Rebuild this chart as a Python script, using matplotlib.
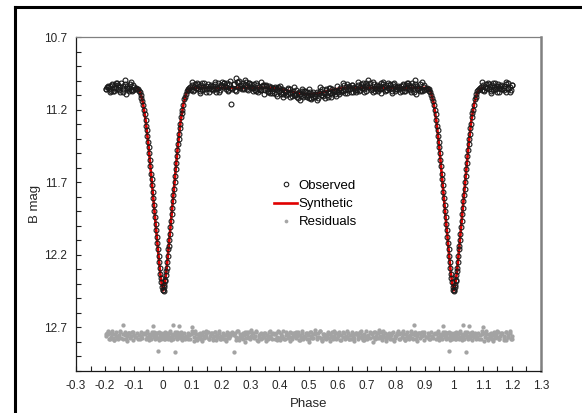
import matplotlib
matplotlib.use("Agg")
import matplotlib.pyplot as plt
import numpy as np
from matplotlib.lines import Line2D
from matplotlib.ticker import MultipleLocator, FuncFormatter

# ---- data (phase 0..1, folded copies added below) ----
obs_phase = [
    # primary egress
    0.001, 0.002, 0.003, 0.004, 0.006, 0.007, 0.009, 0.011, 0.012, 0.014,
    0.016, 0.018, 0.019, 0.021, 0.023, 0.025, 0.027, 0.029, 0.031, 0.033,
    0.035, 0.037, 0.039, 0.041, 0.043, 0.045, 0.047, 0.049, 0.051, 0.053,
    0.055, 0.057, 0.059, 0.062, 0.064, 0.066, 0.069, 0.072, 0.075, 0.078,
    0.081, 0.084, 0.087, 0.090, 0.093,
    # out of eclipse
    0.096, 0.099, 0.103, 0.106, 0.110, 0.113, 0.117, 0.121, 0.124, 0.128,
    0.131, 0.135, 0.138, 0.142, 0.146, 0.149, 0.153, 0.156, 0.160, 0.163,
    0.167, 0.171, 0.174, 0.178, 0.181, 0.185, 0.188, 0.192, 0.196, 0.199,
    0.203, 0.206, 0.210, 0.213, 0.217, 0.221, 0.224, 0.228, 0.231, 0.235,
    0.238, 0.242, 0.246, 0.249, 0.253, 0.256, 0.260, 0.263, 0.267, 0.271,
    0.274, 0.278, 0.281, 0.285, 0.288, 0.292, 0.296, 0.299, 0.303, 0.306,
    0.310, 0.313, 0.317, 0.321, 0.324, 0.328, 0.331, 0.335, 0.338, 0.342,
    0.346, 0.349, 0.353, 0.356, 0.360, 0.363, 0.367, 0.371, 0.374, 0.378,
    0.381, 0.385, 0.388, 0.392, 0.396, 0.399, 0.403, 0.406, 0.410, 0.413,
    0.417, 0.421, 0.424, 0.428, 0.431, 0.435, 0.438, 0.442, 0.446, 0.449,
    0.453, 0.456, 0.460, 0.463, 0.467, 0.471, 0.474, 0.478, 0.481, 0.485,
    0.488, 0.492, 0.496, 0.499, 0.503, 0.506, 0.510, 0.513, 0.517, 0.521,
    0.524, 0.528, 0.531, 0.535, 0.538, 0.542, 0.546, 0.549, 0.553, 0.556,
    0.560, 0.563, 0.567, 0.571, 0.574, 0.578, 0.581, 0.585, 0.588, 0.592,
    0.596, 0.599, 0.603, 0.606, 0.610, 0.613, 0.617, 0.621, 0.624, 0.628,
    0.631, 0.635, 0.638, 0.642, 0.646, 0.649, 0.653, 0.656, 0.660, 0.663,
    0.667, 0.671, 0.674, 0.678, 0.681, 0.685, 0.688, 0.692, 0.696, 0.699,
    0.703, 0.706, 0.710, 0.713, 0.717, 0.721, 0.724, 0.728, 0.731, 0.735,
    0.738, 0.742, 0.746, 0.749, 0.753, 0.756, 0.760, 0.763, 0.767, 0.771,
    0.774, 0.778, 0.781, 0.785, 0.788, 0.792, 0.796, 0.799, 0.803, 0.806,
    0.810, 0.813, 0.817, 0.821, 0.824, 0.828, 0.831, 0.835, 0.838, 0.842,
    0.846, 0.849, 0.853, 0.856, 0.860, 0.863, 0.867, 0.871, 0.874, 0.878,
    0.881, 0.885, 0.888, 0.892, 0.896, 0.899, 0.903,
    # primary ingress
    0.907, 0.910, 0.913, 0.916, 0.919, 0.922, 0.925, 0.928, 0.931, 0.934,
    0.937, 0.940, 0.942, 0.944, 0.946, 0.948, 0.950, 0.952, 0.954, 0.956,
    0.958, 0.960, 0.962, 0.964, 0.966, 0.968, 0.970, 0.972, 0.974, 0.976,
    0.978, 0.980, 0.982, 0.984, 0.986, 0.988, 0.990, 0.992, 0.994, 0.996,
    0.998,
]

obs_mag = [
    12.44, 12.45, 12.42, 12.41, 12.38, 12.37, 12.34, 12.31, 12.29, 12.25,
    12.21, 12.16, 12.14, 12.10, 12.06, 12.01, 11.97, 11.92, 11.88, 11.83,
    11.79, 11.75, 11.70, 11.66, 11.61, 11.57, 11.52, 11.48, 11.44, 11.40,
    11.37, 11.33, 11.30, 11.25, 11.22, 11.20, 11.17, 11.13, 11.11, 11.09,
    11.075, 11.065, 11.06, 11.05, 11.045,
    11.063, 11.033, 11.075, 11.041, 11.023, 11.053, 11.014, 11.059, 11.039, 11.070,
    11.030, 11.066, 11.043, 11.017, 11.056, 11.078, 11.026, 11.049, 11.036, 11.061,
    11.061, 11.036, 11.049, 11.026, 11.078, 11.056, 11.017, 11.043, 11.066, 11.030,
    11.008, 11.044, 11.019, 11.038, 11.059, 11.014, 11.064, 11.027, 11.050, 11.160,
    11.053, 11.023, 11.065, 10.985, 11.013, 11.043, 11.004, 11.049, 11.029, 11.060,
    11.020, 11.056, 11.033, 11.007, 11.046, 11.068, 11.016, 11.039, 11.026, 11.051,
    11.051, 11.021, 11.064, 11.072, 11.032, 11.044, 11.057, 11.011, 11.067, 11.028,
    11.028, 11.064, 11.039, 11.058, 11.079, 11.034, 11.084, 11.047, 11.070, 11.052,
    11.083, 11.053, 11.095, 11.061, 11.043, 11.073, 11.034, 11.079, 11.059, 11.090,
    11.065, 11.101, 11.078, 11.052, 11.091, 11.113, 11.061, 11.084, 11.071, 11.096,
    11.098, 11.068, 11.111, 11.119, 11.079, 11.091, 11.104, 11.058, 11.114, 11.075,
    11.071, 11.107, 11.082, 11.101, 11.122, 11.077, 11.127, 11.090, 11.113, 11.095,
    11.110, 11.080, 11.122, 11.088, 11.070, 11.100, 11.061, 11.106, 11.086, 11.117,
    11.063, 11.099, 11.076, 11.050, 11.089, 11.111, 11.059, 11.082, 11.069, 11.094,
    11.069, 11.039, 11.082, 11.090, 11.050, 11.062, 11.075, 11.029, 11.085, 11.046,
    11.026, 11.062, 11.037, 11.056, 11.077, 11.032, 11.082, 11.045, 11.068, 11.050,
    11.063, 11.033, 11.075, 11.041, 11.023, 11.053, 11.014, 11.059, 11.039, 11.070,
    11.030, 10.995, 11.043, 11.017, 11.056, 11.078, 11.026, 11.049, 11.036, 11.061,
    11.070, 11.039, 11.059, 11.014, 11.053, 11.023, 11.041, 11.075, 11.033, 11.063,
    11.018, 11.054, 11.029, 11.048, 11.069, 11.024, 11.074, 11.037, 11.060, 11.042,
    11.042, 11.060, 11.037, 11.074, 11.024, 11.069, 11.048, 11.029, 11.054, 11.018,
    11.030, 11.066, 11.043, 11.017, 11.056, 11.078, 10.995, 11.095, 11.036, 11.061,
    11.051, 11.021, 11.064, 11.072, 11.032, 11.044, 11.057,
    11.05, 11.055, 11.06, 11.07, 11.08, 11.10, 11.12, 11.14, 11.17, 11.20,
    11.23, 11.27, 11.31, 11.34, 11.38, 11.42, 11.46, 11.50, 11.55, 11.59,
    11.64, 11.68, 11.72, 11.77, 11.81, 11.86, 11.90, 11.94, 11.99, 12.03,
    12.08, 12.12, 12.16, 12.21, 12.25, 12.29, 12.33, 12.36, 12.39, 12.42,
    12.44,
]

# residuals, shifted down to ~12.76 as in the reference (one row per phase row above)
resid_mag = [
    # egress
    12.769, 12.739, 12.782, 12.751, 12.777, 12.730, 12.761, 12.773, 12.746, 12.735,
    12.748, 12.780, 12.737, 12.764, 12.727, 12.771, 12.785, 12.742, 12.759, 12.685,
    12.783, 12.753, 12.733, 12.870, 12.744, 12.766, 12.729, 12.778, 12.762, 12.690,
    12.736, 12.772, 12.760, 12.731, 12.784, 12.749, 12.768, 12.738, 12.781, 12.756,
    12.769, 12.739, 12.782, 12.751, 12.777,
    # out of eclipse
    12.748, 12.700, 12.737, 12.764, 12.727, 12.771, 12.785, 12.742, 12.759, 12.776,  # 0.096
    12.783, 12.753, 12.733, 12.775, 12.744, 12.766, 12.729, 12.778, 12.762, 12.740,  # 0.131
    12.736, 12.772, 12.760, 12.731, 12.784, 12.749, 12.768, 12.738, 12.781, 12.756,  # 0.167
    12.769, 12.739, 12.782, 12.751, 12.777, 12.730, 12.761, 12.773, 12.746, 12.735,  # 0.203
    12.748, 12.870, 12.737, 12.764, 12.727, 12.771, 12.785, 12.742, 12.759, 12.776,  # 0.238
    12.783, 12.753, 12.733, 12.775, 12.744, 12.766, 12.729, 12.778, 12.762, 12.740,  # 0.274
    12.736, 12.772, 12.760, 12.731, 12.784, 12.749, 12.768, 12.738, 12.781, 12.756,  # 0.310
    12.769, 12.739, 12.782, 12.751, 12.777, 12.730, 12.761, 12.773, 12.746, 12.735,  # 0.346
    12.748, 12.780, 12.737, 12.764, 12.727, 12.771, 12.785, 12.742, 12.759, 12.776,  # 0.381
    12.783, 12.753, 12.733, 12.775, 12.744, 12.766, 12.729, 12.778, 12.762, 12.740,  # 0.417
    12.736, 12.772, 12.760, 12.731, 12.784, 12.749, 12.768, 12.738, 12.781, 12.756,  # 0.453
    12.769, 12.739, 12.782, 12.751, 12.777, 12.730, 12.761, 12.773, 12.746, 12.735,  # 0.488
    12.748, 12.780, 12.737, 12.764, 12.727, 12.771, 12.785, 12.742, 12.759, 12.776,  # 0.524
    12.783, 12.753, 12.733, 12.775, 12.744, 12.766, 12.729, 12.778, 12.762, 12.740,  # 0.560
    12.736, 12.772, 12.760, 12.731, 12.784, 12.749, 12.768, 12.738, 12.781, 12.756,  # 0.596
    12.769, 12.739, 12.782, 12.751, 12.777, 12.730, 12.761, 12.773, 12.746, 12.735,  # 0.631
    12.748, 12.780, 12.737, 12.764, 12.727, 12.771, 12.785, 12.742, 12.759, 12.776,  # 0.667
    12.783, 12.753, 12.733, 12.775, 12.744, 12.766, 12.729, 12.778, 12.762, 12.740,  # 0.703
    12.736, 12.772, 12.760, 12.731, 12.784, 12.749, 12.768, 12.738, 12.781, 12.756,  # 0.738
    12.769, 12.739, 12.782, 12.751, 12.777, 12.730, 12.761, 12.773, 12.746, 12.735,  # 0.774
    12.748, 12.780, 12.737, 12.764, 12.727, 12.771, 12.785, 12.742, 12.759, 12.776,  # 0.810
    12.783, 12.753, 12.733, 12.775, 12.744, 12.685, 12.729, 12.778, 12.762, 12.740,  # 0.846
    12.736, 12.772, 12.760, 12.731, 12.784, 12.749, 12.768,                          # 0.881
    # ingress
    12.769, 12.739, 12.782, 12.751, 12.777, 12.730, 12.761, 12.773, 12.746, 12.735,
    12.748, 12.780, 12.737, 12.764, 12.727, 12.771, 12.785, 12.742, 12.759, 12.776,
    12.783, 12.753, 12.733, 12.690, 12.744, 12.766, 12.729, 12.778, 12.762, 12.740,
    12.736, 12.772, 12.860, 12.731, 12.784, 12.749, 12.768, 12.738, 12.781, 12.756,
    12.750,
]

# second night, out of eclipse only
obs2_phase = [
    0.098, 0.105, 0.112, 0.120, 0.127, 0.134, 0.142, 0.149, 0.156, 0.164,
    0.171, 0.178, 0.186, 0.193, 0.200, 0.208, 0.215, 0.222, 0.230, 0.237,
    0.244, 0.252, 0.259, 0.266, 0.274, 0.281, 0.288, 0.296, 0.303, 0.310,
    0.318, 0.325, 0.332, 0.340, 0.347, 0.354, 0.362, 0.369, 0.376, 0.384,
    0.391, 0.398, 0.406, 0.413, 0.420, 0.428, 0.435, 0.442, 0.450, 0.457,
    0.464, 0.472, 0.479, 0.486, 0.494, 0.501, 0.508, 0.516, 0.523, 0.530,
    0.538, 0.545, 0.552, 0.560, 0.567, 0.574, 0.582, 0.589, 0.596, 0.604,
    0.611, 0.618, 0.626, 0.633, 0.640, 0.648, 0.655, 0.662, 0.670, 0.677,
    0.684, 0.692, 0.699, 0.706, 0.714, 0.721, 0.728, 0.736, 0.743, 0.750,
    0.758, 0.765, 0.772, 0.780, 0.787, 0.794, 0.802, 0.809, 0.816, 0.824,
    0.831, 0.838, 0.846, 0.853, 0.860, 0.868, 0.875, 0.882, 0.890, 0.897,
]
obs2_mag = [
    11.010, 11.067, 11.053, 11.027, 11.083, 11.018, 11.060, 11.039, 11.076, 11.032,
    11.067, 11.009, 11.052, 11.076, 11.031, 11.018, 11.044, 11.069, 11.002, 11.057,
    11.024, 11.069, 11.010, 11.037, 11.054, 10.998, 11.061, 11.019, 11.044, 11.075,
    11.020, 11.077, 11.063, 11.037, 11.093, 11.028, 11.070, 11.049, 11.086, 11.042,
    11.107, 11.049, 11.092, 11.116, 11.071, 11.058, 11.084, 11.109, 11.042, 11.097,
    11.086, 11.131, 11.072, 11.099, 11.116, 11.060, 11.123, 11.081, 11.106, 11.137,
    11.043, 11.100, 11.086, 11.060, 11.116, 11.051, 11.093, 11.072, 11.109, 11.065,
    11.077, 11.019, 11.062, 11.086, 11.041, 11.028, 11.054, 11.079, 11.012, 11.067,
    11.034, 11.079, 11.020, 11.047, 11.064, 11.008, 11.071, 11.029, 11.054, 11.085,
    11.010, 11.067, 11.053, 11.027, 11.083, 11.018, 11.060, 11.039, 11.076, 11.032,
    11.072, 11.014, 11.057, 11.081, 11.036, 11.023, 11.049, 11.074, 11.007, 11.062,
]
resid2_mag = [
    12.722, 12.790, 12.748, 12.771, 12.735, 12.793, 12.758, 12.726, 12.781, 12.744,
    12.787, 12.731, 12.766, 12.724, 12.779, 12.753, 12.795, 12.739, 12.762, 12.728,
    12.754, 12.786, 12.725, 12.768, 12.741, 12.797, 12.733, 12.776, 12.720, 12.763,
    12.722, 12.790, 12.748, 12.771, 12.735, 12.793, 12.758, 12.726, 12.781, 12.744,
    12.787, 12.731, 12.766, 12.724, 12.779, 12.753, 12.795, 12.739, 12.762, 12.728,
    12.754, 12.786, 12.725, 12.768, 12.741, 12.797, 12.733, 12.776, 12.720, 12.763,
    12.722, 12.790, 12.748, 12.771, 12.735, 12.793, 12.758, 12.726, 12.781, 12.744,
    12.787, 12.731, 12.766, 12.724, 12.779, 12.753, 12.795, 12.739, 12.762, 12.728,
    12.754, 12.786, 12.725, 12.768, 12.741, 12.797, 12.733, 12.776, 12.720, 12.763,
    12.722, 12.790, 12.748, 12.771, 12.735, 12.793, 12.758, 12.726, 12.781, 12.744,
    12.787, 12.731, 12.766, 12.724, 12.779, 12.753, 12.795, 12.739, 12.762, 12.728,
]

# synthetic light curve nodes
syn_phase = [0.000, 0.005, 0.010, 0.015, 0.020, 0.030, 0.040, 0.050, 0.060, 0.070,
             0.080, 0.090, 0.100, 0.380, 0.420, 0.460, 0.500, 0.540, 0.580, 0.620,
             0.910, 0.920, 0.930, 0.940, 0.950, 0.960, 0.970, 0.980, 0.985, 0.990,
             0.995, 1.000]
syn_mag = [12.445, 12.40, 12.33, 12.23, 12.12, 11.90, 11.68, 11.46, 11.28, 11.16,
           11.085, 11.058, 11.05, 11.05, 11.065, 11.085, 11.095, 11.085, 11.065, 11.05,
           11.05, 11.075, 11.15, 11.28, 11.46, 11.68, 11.90, 12.12, 12.23, 12.33,
           12.40, 12.445]

x_ticks = [-0.3, -0.2, -0.1, 0, 0.1, 0.2, 0.3, 0.4, 0.5, 0.6, 0.7, 0.8, 0.9, 1.0, 1.1, 1.2, 1.3]
y_ticks = [10.7, 11.2, 11.7, 12.2, 12.7]

for group in ((obs_phase, obs_mag, resid_mag), (obs2_phase, obs2_mag, resid2_mag)):
    lengths = tuple(len(g) for g in group)
    if len(set(lengths)) != 1:
        raise SystemExit(f"length mismatch: {lengths}")


def fold(phase, values):
    # repeat the phase-folded data so the plot runs from -0.2 to 1.2
    p = np.asarray(phase, dtype=float)
    v = np.asarray(values, dtype=float)
    lo = p >= 0.8
    hi = p <= 0.2
    return np.concatenate([p[lo] - 1, p, p[hi] + 1]), np.concatenate([v[lo], v, v[hi]])


all_phase = obs_phase + obs2_phase
op, om = fold(all_phase, obs_mag + obs2_mag)
_, rm = fold(all_phase, resid_mag + resid2_mag)
sp, sm = fold(syn_phase, syn_mag)
order = np.argsort(sp, kind="stable")
sp, sm = sp[order], sm[order]

plt.rcParams["font.family"] = ["Liberation Sans", "DejaVu Sans"]

fig = plt.figure(figsize=(5.82, 4.13), dpi=100)
ax = fig.add_axes([76 / 582, 1 - 371 / 413, 465 / 582, 334 / 413])

ax.plot(op, rm, linestyle="none", marker="o", markersize=3.1,
        markerfacecolor="#a3a3a3", markeredgecolor="none", zorder=2)
ax.plot(sp, sm, color="#e00000", linewidth=1.9, zorder=3)
ax.plot(op, om, linestyle="none", marker="o", markersize=3.5,
        markerfacecolor="none", markeredgecolor="#1a1a1a", markeredgewidth=0.8, zorder=4)

ax.set_xlim(-0.3, 1.3)
ax.set_ylim(13.0, 10.7)
ax.set_xticks(x_ticks)
ax.set_yticks(y_ticks)
ax.xaxis.set_minor_locator(MultipleLocator(0.05))
ax.yaxis.set_minor_locator(MultipleLocator(0.1))
ax.xaxis.set_major_formatter(FuncFormatter(lambda v, pos: f"{v:.1f}".rstrip("0").rstrip(".") if abs(v) > 1e-9 else "0"))
ax.yaxis.set_major_formatter(FuncFormatter(lambda v, pos: f"{v:.1f}"))

ax.tick_params(which="both", direction="in", color="#222222", labelsize=8.5,
               labelcolor="#262626", pad=6.5, width=0.8)
ax.tick_params(which="major", length=3.5)
ax.tick_params(which="minor", length=3.5)

ax.set_xlabel("Phase", fontsize=9.5, color="#262626", labelpad=4)
ax.set_ylabel("B mag", fontsize=9.5, color="#262626", labelpad=2)

for side in ("left", "bottom"):
    ax.spines[side].set_color("#1a1a1a")
    ax.spines[side].set_linewidth(0.9)
ax.spines["top"].set_color("#808080")
ax.spines["top"].set_linewidth(0.9)
ax.spines["right"].set_color("#808080")
ax.spines["right"].set_linewidth(1.8)

handles = [
    Line2D([], [], linestyle="none", marker="o", markersize=3.3, markerfacecolor="none",
           markeredgecolor="#1a1a1a", markeredgewidth=0.75),
    Line2D([], [], color="#e00000", linewidth=1.9),
    Line2D([], [], linestyle="none", marker="o", markersize=2.7,
           markerfacecolor="#a6a6a6", markeredgecolor="none"),
]
ax.legend(handles, ["Observed", "Synthetic", "Residuals"], loc="center",
          bbox_to_anchor=(0.515, 0.5), frameon=False, fontsize=9.5,
          handlelength=1.75, handletextpad=0.1, labelspacing=0.45, borderpad=0)

# outer picture frame (left and top edges)
fig.add_artist(Line2D([15 / 582, 15 / 582], [0, 1 - 7 / 413], color="black", linewidth=2.2))
fig.add_artist(Line2D([15 / 582, 1], [1 - 7 / 413, 1 - 7 / 413], color="black", linewidth=2.2))

fig.savefig("out.png", dpi=100)
